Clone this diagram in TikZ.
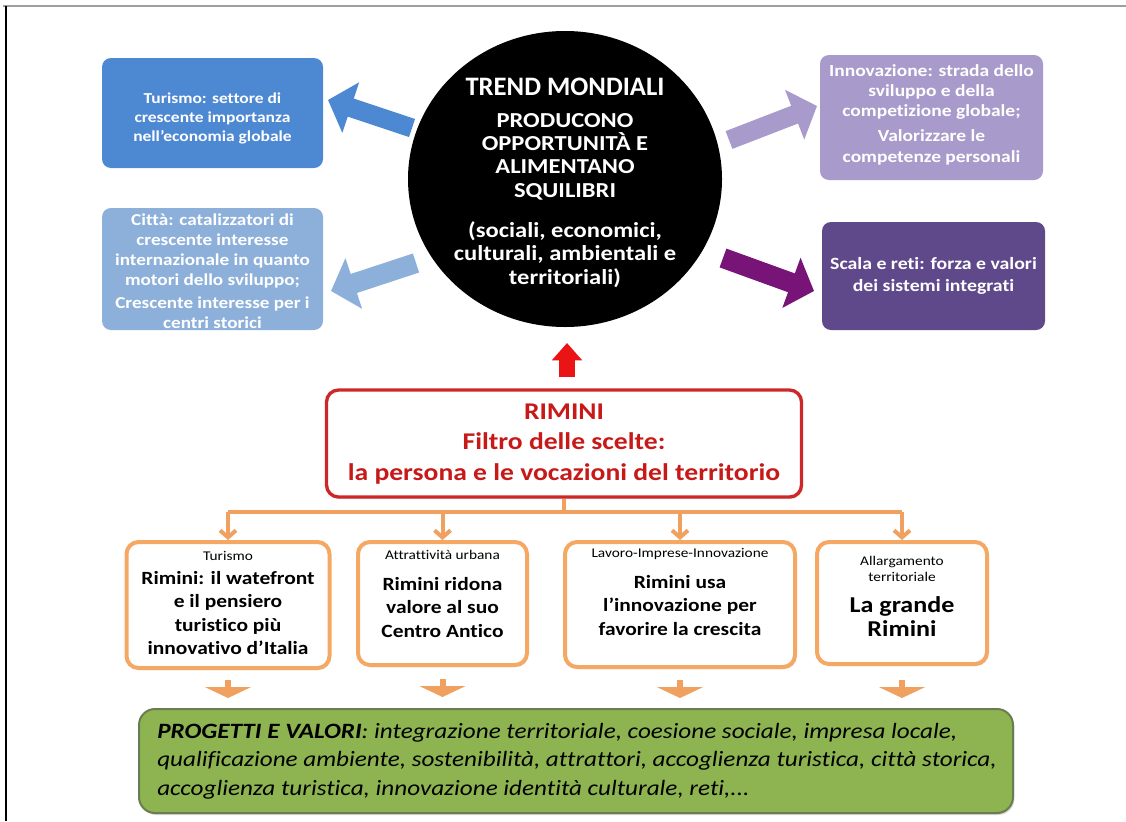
\documentclass[tikz,border=0pt]{standalone}
\usepackage{fontspec}
\setmainfont{Carlito}[FakeStretch=1.15, Ligatures={TeX,NoCommon}]
\newfontfamily\trendfont{Carlito}[Ligatures={TeX,NoCommon}]
\usetikzlibrary{arrows.meta,shapes.geometric,shadows}
\newdimen\pxu \pxu=0.75pt
\newcommand\olabf{\mdseries\fontsize{10}{12}\selectfont}
\definecolor{tblue}{RGB}{77,136,211}
\definecolor{lblue}{RGB}{141,176,219}
\definecolor{lav}{RGB}{168,155,203}
\definecolor{dpur}{RGB}{95,73,139}
\definecolor{parrow}{RGB}{120,20,120}
\definecolor{rred}{RGB}{200,25,25}
\definecolor{rborder}{RGB}{205,40,40}
\definecolor{oline}{RGB}{240,160,95}
\definecolor{oborder}{RGB}{244,168,100}
\definecolor{gfill}{RGB}{141,180,80}
\definecolor{gborder}{RGB}{105,125,80}
\definecolor{arrred}{RGB}{235,20,20}
\begin{document}
\begin{tikzpicture}[x=0.75pt,y=-0.75pt,
  cbox/.style={rounded corners=9\pxu, inner sep=0pt},
  ctext/.style={align=center, text=white, inner sep=0pt, font=\bfseries\fontsize{11.4}{14.25}\selectfont},
  bigarr/.style={draw=#1, line width=14.25pt, line cap=butt, -{Triangle[length=18pt,width=39pt]}},
  obox/.style={draw=oborder, line width=3pt, rounded corners=12\pxu, fill=white, inner sep=0pt,
    drop shadow={shadow xshift=1pt, shadow yshift=-1.5pt, opacity=0.25}},
  otext/.style={align=center, inner sep=0pt, anchor=north, font=\bfseries\fontsize{14}{17.4}\selectfont},
  oconn/.style={draw=oline, line width=3pt},
  oarr/.style={oconn, -{Straight Barb[length=5.25pt,width=12pt]}},
  smallarr/.style={draw=oline, line width=4.5pt, line cap=butt, -{Triangle[length=8.25pt,width=34.5pt]}}
]
\useasboundingbox (0,0) rectangle (1126,821);
\fill[white] (0,0) rectangle (1126,821);
% frame
\draw[gray!75, line width=2pt] (3,6) -- (1126,6);
\draw[black, line width=1.2pt] (6,6) -- (6,821);

% central circle
\node[ellipse, fill=black, minimum width=314\pxu, minimum height=296\pxu, inner sep=0pt] (trend) at (565,179) {};
\node[ctext, font=\bfseries\fontsize{16}{17.5}\selectfont] (trendtxt) at (565,183)
  {{\trendfont\fontsize{20}{24}\selectfont TREND MONDIALI}\\[8\pxu]
   PRODUCONO\\OPPORTUNITÀ E\\ALIMENTANO\\SQUILIBRI\\[17\pxu]
   (sociali, economici,\\culturali, ambientali e\\territoriali)};

% side boxes
\node[cbox, fill=tblue, minimum width=221\pxu, minimum height=110\pxu] (tur) at (212.5,113) {};
\node[ctext] at ([yshift=-5\pxu]tur.center) {Turismo: settore di\\crescente importanza\\nell'economia globale};

\node[cbox, fill=lblue, minimum width=221\pxu, minimum height=122\pxu] (citta) at (212.5,269) {};
\node[ctext, font=\bfseries\fontsize{12.5}{15}\selectfont] at ([yshift=-2\pxu]citta.center)
  {Città: catalizzatori di\\crescente interesse\\internazionale in quanto\\motori dello sviluppo;\\[3\pxu]Crescente interesse per i\\centri storici};

\node[cbox, fill=lav, minimum width=223\pxu, minimum height=125\pxu] (innov) at (931.5,117.5) {};
\node[ctext, font=\bfseries\fontsize{12.7}{15.2}\selectfont] at ([yshift=3\pxu]innov.center)
  {Innovazione: strada dello\\sviluppo e della\\competizione globale;\\[5\pxu]Valorizzare le\\competenze personali};

\node[cbox, fill=dpur, minimum width=223\pxu, minimum height=108\pxu] (scala) at (933.5,276) {};
\node[ctext, font=\bfseries\fontsize{12.9}{16.5}\selectfont] at (scala.center)
  {Scala e reti: forza e valori\\dei sistemi integrati};

% block arrows from the circle
\coordinate (a1s) at (412,128); \coordinate (a1e) at (328,100);
\coordinate (a2s) at (416,263); \coordinate (a2e) at (331,291);
\coordinate (a3s) at (729,140); \coordinate (a3e) at (817,106);
\coordinate (a4s) at (723,258); \coordinate (a4e) at (814,291);
\draw[bigarr=tblue] (a1s) -- (a1e);
\draw[bigarr=lblue, line width=15pt] (a2s) -- (a2e);
\draw[bigarr=lav] (a3s) -- (a3e);
\draw[bigarr=parrow, line width=15pt] (a4s) -- (a4e);

% RIMINI box
\node[draw=rborder, line width=2.5pt, rounded corners=12\pxu, fill=white, minimum width=475\pxu, minimum height=107\pxu,
  inner sep=0pt, drop shadow={shadow xshift=1pt, shadow yshift=-1.5pt, opacity=0.25}] (rim) at (564,443.5) {};
\node[align=center, text=rred, inner sep=0pt, font=\bfseries\fontsize{18}{23}\selectfont] at (564,444)
  {RIMINI\\Filtro delle scelte:\\la persona e le vocazioni del territorio};
\coordinate (rtip) at (567,343);
\draw[draw=arrred, line width=12.5pt, line cap=butt, -{Triangle[length=13pt,width=22pt]}] ([xshift=3\pxu,yshift=11\pxu]rim.north) -- (rtip);

% four boxes
\node[obox, minimum width=203\pxu, minimum height=126\pxu] (b1) at (228,605) {};
\node[obox, minimum width=169\pxu, minimum height=123\pxu] (b2) at (442.5,603.5) {};
\node[obox, minimum width=230\pxu, minimum height=125\pxu] (b3) at (680,604.5) {};
\node[obox, minimum width=170\pxu, minimum height=122\pxu] (b4) at (902,603) {};

\node[otext] at ([yshift=-11\pxu]b1.north) {{\olabf Turismo}\\[1\pxu]Rimini: il watefront\\e il pensiero\\turistico più\\innovativo d’Italia};
\node[otext] at ([yshift=-10\pxu]b2.north) {{\olabf Attrattività urbana}\\[8\pxu]Rimini ridona\\valore al suo\\Centro Antico};
\node[otext] at ([yshift=-8\pxu]b3.north) {{\olabf Lavoro-Imprese-Innovazione}\\[8\pxu]Rimini usa\\l’innovazione per\\favorire la crescita};
\node[otext, font=\bfseries\fontsize{17}{18}\selectfont] at ([yshift=-16\pxu]b4.north)
  {{\olabf Allargamento}\\[-6pt]{\olabf territoriale}\\[5pt]La grande\\Rimini};

% tree connectors
\coordinate (hub) at (564,512);
\draw[oconn] (rim.south) -- (hub);
\draw[oconn] (b1.north |- hub) -- (b4.north |- hub);
\draw[oarr] (b1.north |- hub) -- (b1.north);
\draw[oarr] (b2.north |- hub) -- (b2.north);
\draw[oarr] (b3.north |- hub) -- (b3.north);
\draw[oarr] (b4.north |- hub) -- (b4.north);

% green box
\node[draw=gborder, line width=1.5pt, fill=gfill, rounded corners=16\pxu, minimum width=874\pxu, minimum height=104\pxu,
  inner sep=0pt, drop shadow={shadow xshift=1pt, shadow yshift=-1.5pt, opacity=0.3}] (prog) at (576,761) {};
\node[anchor=west, align=left, inner sep=0pt, font=\itshape\fontsize{16.4}{21.4}\selectfont] at (157,761)
  {{\bfseries PROGETTI E VALORI}: integrazione territoriale, coesione sociale, impresa locale,\\
   qualificazione ambiente, sostenibilità, attrattori, accoglienza turistica, città storica,\\
   accoglienza turistica, innovazione identità culturale, reti,...};

% small arrows between boxes and green box
\draw[smallarr] ([yshift=-10\pxu]b1.south) -- ([yshift=-28\pxu]b1.south);
\draw[smallarr] ([yshift=-12\pxu]b2.south) -- ([yshift=-30\pxu]b2.south);
\draw[smallarr] ([yshift=-11\pxu]b3.south) -- ([yshift=-29\pxu]b3.south);
\draw[smallarr] ([yshift=-14\pxu]b4.south) -- ([yshift=-32\pxu]b4.south);
\end{tikzpicture}
\end{document}
